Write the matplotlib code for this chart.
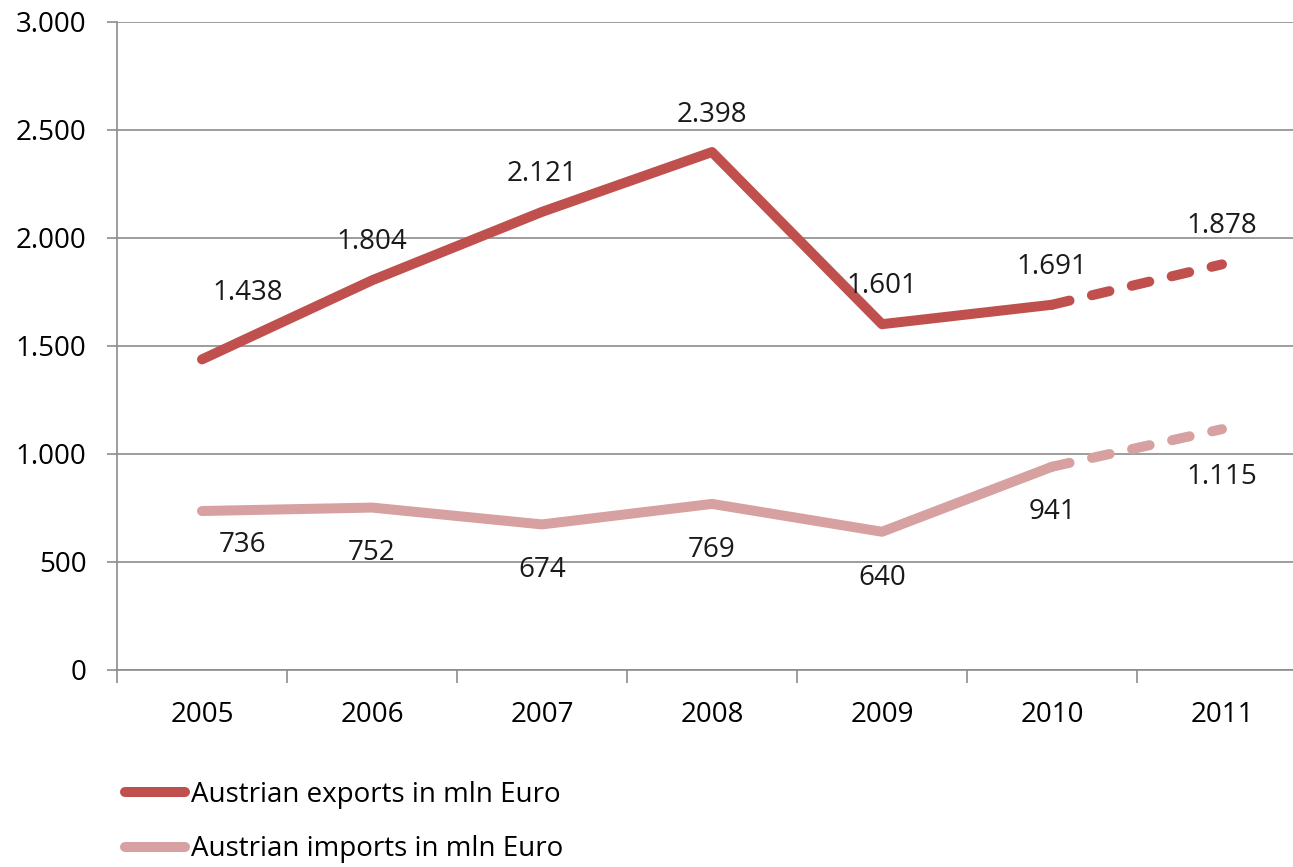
import matplotlib.pyplot as plt
from matplotlib.ticker import FuncFormatter, FixedLocator

# Datos
years = ['2005', '2006', '2007', '2008', '2009', '2010', '2011']
exports = [1438, 1804, 2121, 2398, 1601, 1691, 1878]
imports = [736, 752, 674, 769, 640, 941, 1115]

# desplazamiento de las etiquetas (en puntos)
exp_offsets = [(33, 50), (0, 30), (0, 30), (0, 29), (0, 30), (0, 30), (0, 30)]
imp_offsets = [(29, -22), (0, -30), (0, -30), (0, -31), (0, -31), (0, -30), (0, -32)]

color_exp = '#C0504D'
color_imp = '#D6A1A0'
grid_color = '#8C8C8C'

plt.rcParams['font.family'] = ['Open Sans', 'DejaVu Sans']
plt.rcParams['font.size'] = 20
plt.rcParams['lines.solid_capstyle'] = 'round'

fig = plt.figure(figsize=(12.93, 8.67), dpi=100)
ax = fig.add_axes([117 / 1293, (867 - 670) / 867, 1176 / 1293, 648 / 867])

x = list(range(len(years)))
lw = 7.2
dashes = (0, (1.8, 2.3))

# parte real (solida) y prevision 2011 (discontinua)
ax.plot(x[:-1], exports[:-1], color=color_exp, lw=lw, solid_joinstyle='round',
        label='Austrian exports in mln Euro', zorder=3)
ax.plot(x[-2:], exports[-2:], color=color_exp, lw=lw, ls=dashes,
        dash_capstyle='round', zorder=3)
ax.plot(x[:-1], imports[:-1], color=color_imp, lw=lw, solid_joinstyle='round',
        label='Austrian imports in mln Euro', zorder=3)
ax.plot(x[-2:], imports[-2:], color=color_imp, lw=lw, ls=dashes,
        dash_capstyle='round', zorder=3)

def fmt(v):
    return f'{v:,}'.replace(',', '.')

for i, v in enumerate(exports):
    ax.annotate(fmt(v), (x[i], v), xytext=exp_offsets[i], textcoords='offset points',
                ha='center', va='center_baseline', color='#1a1a1a')
for i, v in enumerate(imports):
    ax.annotate(fmt(v), (x[i], v), xytext=imp_offsets[i], textcoords='offset points',
                ha='center', va='center_baseline', color='#1a1a1a')

ax.set_xlim(-0.5, -0.5 + 1176 / 170)
ax.set_ylim(0, 3000)
ax.set_yticks(range(0, 3001, 500))
ax.yaxis.set_major_formatter(FuncFormatter(lambda v, p: fmt(int(v))))
ax.set_xticks(x)
ax.set_xticklabels(years)
ax.xaxis.set_minor_locator(FixedLocator([i - 0.5 for i in range(len(years) + 1)]))
ax.tick_params(axis='x', which='major', length=0, pad=22)
ax.tick_params(axis='x', which='minor', length=9, color=grid_color, width=1.2)
ax.tick_params(axis='y', length=7, color=grid_color, width=1.2, pad=15)

ax.grid(axis='y', color=grid_color, lw=1.2)
ax.set_axisbelow(True)
for s in ['top', 'right']:
    ax.spines[s].set_visible(False)
for s in ['left', 'bottom']:
    ax.spines[s].set_color(grid_color)
    ax.spines[s].set_linewidth(1.2)

fig.legend(loc='upper left', bbox_to_anchor=(125 / 1293, (867 - 781) / 867),
           frameon=False, handlelength=2.16, handletextpad=0.2, labelspacing=0.95,
           borderaxespad=0, borderpad=0)

plt.savefig('out.png', dpi=100)
